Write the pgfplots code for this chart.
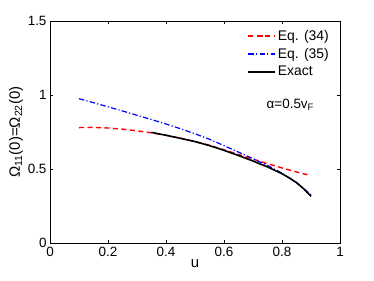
\documentclass[border=0pt]{standalone}
\usepackage{fontspec}
\setmainfont{Liberation Sans}
\usepackage{pgfplots}
\pgfplotsset{compat=1.18}
\begin{document}
\begin{tikzpicture}
\begin{axis}[
  scale only axis,
  width=290bp, height=222bp,
  xmin=0, xmax=1, ymin=0, ymax=1.5,
  xtick={0,0.2,0.4,0.6,0.8,1},
  ytick={0,0.5,1,1.5},
  tick align=inside,
  xtick pos=both, ytick pos=both,
  xticklabel pos=bottom, yticklabel pos=left,
  major tick length=3bp,
  axis line style={line width=0.6bp},
  every tick/.style={black, line width=0.5bp},
  /pgf/number format/assume math mode=true,
  ticklabel style={font=\fontsize{13.5}{15}\selectfont},
  label style={font=\fontsize{15}{17}\selectfont},
  yticklabel style={xshift=0bp},
  xticklabel style={yshift=-1bp},
  xlabel={u},
  ylabel={Ω\textsubscript{11}(0)=Ω\textsubscript{22}(0)},
  xlabel style={yshift=4bp},
  ylabel style={yshift=-2bp},
  legend style={at={(1,1)}, anchor=north east, draw=none, fill=none,
    xshift=-8bp, yshift=-6bp, row sep=2.5bp,
    font=\fontsize{14}{15}\selectfont, inner sep=1bp},
  legend cell align=left,
  legend image code/.code={\draw[#1] plot coordinates {(0cm,0cm) (0.47cm,0cm) (0.94cm,0cm)};},
]
\addplot[red, line width=1.4bp, dash pattern=on 5bp off 3.5bp] coordinates {
(0.10,0.780) (0.15,0.781) (0.20,0.777) (0.25,0.769) (0.30,0.758) (0.35,0.744)
(0.40,0.728) (0.45,0.708) (0.50,0.686) (0.55,0.660) (0.60,0.630) (0.65,0.598)
(0.70,0.567) (0.75,0.536) (0.80,0.507) (0.85,0.480) (0.90,0.455)};
\addlegendentry{Eq. (34)}
\addplot[blue, line width=1.2bp, dash pattern=on 5.5bp off 2.2bp on 1.2bp off 2.2bp] coordinates {
(0.10,0.975) (0.15,0.948) (0.20,0.920) (0.25,0.892) (0.30,0.863) (0.35,0.834)
(0.40,0.804) (0.45,0.772) (0.50,0.738) (0.55,0.701) (0.60,0.658) (0.65,0.614)
(0.70,0.570) (0.75,0.524) (0.80,0.472) (0.85,0.406) (0.875,0.368) (0.90,0.326)};
\addlegendentry{Eq. (35)}
\addplot[black, line width=1.6bp] coordinates {
(0.35,0.747) (0.40,0.728) (0.45,0.707) (0.50,0.685) (0.55,0.658) (0.60,0.626)
(0.65,0.591) (0.70,0.554) (0.75,0.514) (0.80,0.468) (0.825,0.440) (0.85,0.408)
(0.875,0.366) (0.90,0.315)};
\addlegendentry{Exact}
\node[anchor=west, font=\fontsize{13.5}{15}\selectfont] at (axis cs:0.735,0.935) {α=0.5v\textsubscript{F}};
\end{axis}
\pgfresetboundingbox
\path[use as bounding box] ([shift={(-50bp,-37.7bp)}]current axis.south west) rectangle ([shift={(34bp,21bp)}]current axis.north east);
\end{tikzpicture}
\end{document}
